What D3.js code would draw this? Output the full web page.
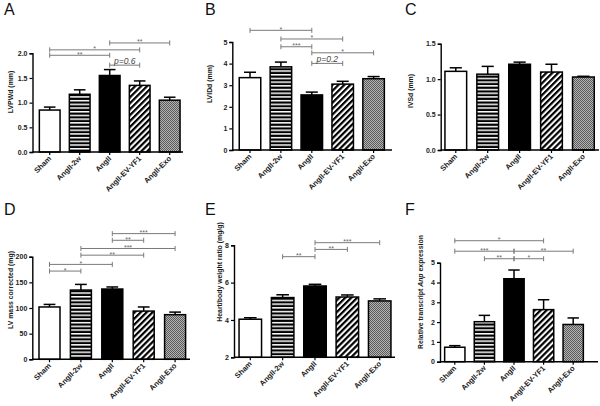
<!DOCTYPE html>
<html><head><meta charset="utf-8">
<script src="https://cdn.jsdelivr.net/npm/d3@7"></script>
<style>body{margin:0;background:#fff}svg{display:block}</style>
</head><body><svg id="c" width="600" height="406"></svg>
<script>
// ---------- DATA ----------
const groups = ["Sham", "AngII-2w", "AngII", "AngII-EV-YF1", "AngII-Exo"];

const lvpwdMean = [0.85, 1.17, 1.55, 1.35, 1.05];
const lvpwdSem  = [0.06, 0.09, 0.12, 0.09, 0.06];
const lvpwdTicks = [0, 0.5, 1.0, 1.5, 2.0];
const lvpwdSig = [[0, 2, 1.96, "**"], [0, 3, 2.07, "*"], [2, 4, 2.21, "**"], [2, 3, 1.76, "p=0.6"]];

const lviddMean = [3.35, 3.85, 2.55, 3.05, 3.3];
const lviddSem  = [0.25, 0.22, 0.13, 0.13, 0.1];
const lviddTicks = [0, 1, 2, 3, 4, 5];
const lviddSig = [[0, 2, 5.54, "*"], [1, 3, 5.14, "*"], [1, 2, 4.78, "***"], [2, 4, 4.5, "*"], [2, 3, 4.01, "p=0.2"]];

const ivsdMean = [1.11, 1.07, 1.21, 1.10, 1.03];
const ivsdSem  = [0.05, 0.11, 0.03, 0.11, 0.01];
const ivsdTicks = [0, 0.5, 1.0, 1.5];
const ivsdSig = [];

const lvmassMean = [102, 135, 137, 94, 87];
const lvmassSem  = [5, 11, 4, 8, 5];
const lvmassTicks = [0, 50, 100, 150, 200];
const lvmassSig = [[0, 1, 172, "*"], [0, 2, 185, "*"], [1, 3, 203, "**"], [1, 4, 216, "***"], [2, 3, 232, "**"], [2, 4, 245, "***"]];

const hbwMean = [4.04, 5.2, 5.82, 5.23, 5.02];
const hbwSem  = [0.08, 0.15, 0.09, 0.11, 0.11];
const hbwTicks = [2, 4, 6, 8];
const hbwSig = [[1, 2, 7.39, "**"], [2, 3, 7.78, "**"], [2, 4, 8.14, "***"]];

const anpMean = [0.73, 2.02, 4.19, 2.63, 1.88];
const anpSem  = [0.08, 0.32, 0.44, 0.5, 0.33];
const anpTicks = [0, 1, 2, 3, 4, 5];
const anpSig = [[0, 3, 6.11, "*"], [0, 2, 5.58, "***"], [2, 4, 5.58, "**"], [1, 2, 5.2, "**"], [2, 3, 5.2, "*"]];

const fills = ["#fff", "url(#hstripe)", "#000", "url(#diag)", "url(#checker)"];

// ---------- LAYOUT ----------
const panels = [
  {letter:"A", lx:4, ly:15, title:"LVPWd (mm)", tx:13, ty:92, axX:32.5, axEnd:183, yT:53.3, yB:152, dom:[0,2], ticks:lvpwdTicks, fmt:d3.format(".1f"), c0:49.7, step:30, w:20.7, mean:lvpwdMean, sem:lvpwdSem, sig:lvpwdSig},
  {letter:"B", lx:205, ly:15, title:"LVIDd (mm)", tx:212, ty:84, axX:232.3, axEnd:392, yT:42, yB:150, dom:[0,5], ticks:lviddTicks, fmt:d3.format("d"), c0:250, step:30.9, w:21.5, mean:lviddMean, sem:lviddSem, sig:lviddSig},
  {letter:"C", lx:405, ly:15, title:"IVSd (mm)", tx:413, ty:91, axX:440.7, axEnd:599, yT:43.7, yB:150, dom:[0,1.5], ticks:ivsdTicks, fmt:d3.format(".1f"), c0:455.8, step:31.9, w:21.7, mean:ivsdMean, sem:ivsdSem, sig:ivsdSig},
  {letter:"D", lx:4, ly:215, title:"LV mass corrected (mg)", tx:13, ty:290, axX:32.3, axEnd:190, yT:256.7, yB:359.3, dom:[0,200], ticks:lvmassTicks, fmt:d3.format("d"), c0:49.5, step:31.4, w:21, mean:lvmassMean, sem:lvmassSem, sig:lvmassSig},
  {letter:"E", lx:205, ly:215, title:"Heart/body weight ratio (mg/g)", tx:222, ty:272, axX:234, axEnd:395, yT:245.3, yB:357.3, dom:[2,8], ticks:hbwTicks, fmt:d3.format("d"), c0:250.3, step:32.35, w:22.5, mean:hbwMean, sem:hbwSem, sig:hbwSig},
  {letter:"F", lx:405, ly:215, title:null, tx:423, ty:292, axX:440, axEnd:598, yT:262.7, yB:361.7, dom:[0,5], ticks:anpTicks, fmt:d3.format("d"), c0:454.8, step:29.6, w:20.3, mean:anpMean, sem:anpSem, sig:anpSig}
];

const svg = d3.select("#c");
const FONT = "Liberation Sans, Arial, sans-serif";

// patterns
const defs = svg.append("defs");
const hs = defs.append("pattern").attr("id","hstripe").attr("patternUnits","userSpaceOnUse").attr("width",4).attr("height",3.7);
hs.append("rect").attr("width",4).attr("height",3.7).attr("fill","#000");
hs.append("rect").attr("width",4).attr("height",1.5).attr("fill","#fff");
const dg = defs.append("pattern").attr("id","diag").attr("patternUnits","userSpaceOnUse").attr("width",4.2).attr("height",4.2).attr("patternTransform","rotate(45)");
dg.append("rect").attr("width",4.2).attr("height",4.2).attr("fill","#fff");
dg.append("rect").attr("width",2.2).attr("height",4.2).attr("fill","#000");
const ck = defs.append("pattern").attr("id","checker").attr("patternUnits","userSpaceOnUse").attr("width",2).attr("height",2);
ck.append("rect").attr("width",2).attr("height",2).attr("fill","#b4b4b4");
ck.append("rect").attr("width",1).attr("height",1).attr("fill","#5a5a5a");
ck.append("rect").attr("x",1).attr("y",1).attr("width",1).attr("height",1).attr("fill","#5a5a5a");

panels.forEach(p => {
  const g = svg.append("g");
  const y = d3.scaleLinear().domain(p.dom).range([p.yB, p.yT]);
  const pi = 1 - p.w / p.step;
  const x = d3.scaleBand().domain(groups)
    .range([p.c0 - p.step/2, p.c0 + p.step*4.5])
    .paddingInner(pi).paddingOuter(pi/2);

  // panel letter
  g.append("text").attr("x", p.lx).attr("y", p.ly).text(p.letter)
    .attr("font-family", FONT).attr("font-size", 16).attr("fill", "#111");

  // y title
  const tt = g.append("text").attr("transform", `translate(${p.tx},${p.ty}) rotate(-90)`)
    .attr("text-anchor","middle").attr("font-family", FONT).attr("font-size", 6.9)
    .attr("font-weight","bold").attr("fill","#1a1a1a");
  if (p.title) tt.text(p.title);
  else {
    tt.append("tspan").text("Relative transcript ");
    tt.append("tspan").attr("font-style","italic").text("Anp");
    tt.append("tspan").text(" expression");
  }

  // error bars
  groups.forEach((k, i) => {
    const cx = x(k) + x.bandwidth()/2;
    const cw = x.bandwidth() * 0.28;
    g.append("line").attr("x1",cx).attr("x2",cx).attr("y1",y(p.mean[i])).attr("y2",y(p.mean[i]+p.sem[i]))
      .attr("stroke","#000").attr("stroke-width",1.5);
    g.append("line").attr("x1",cx-cw).attr("x2",cx+cw).attr("y1",y(p.mean[i]+p.sem[i])).attr("y2",y(p.mean[i]+p.sem[i]))
      .attr("stroke","#000").attr("stroke-width",1.5);
  });

  // bars
  g.selectAll("rect.bar").data(groups).join("rect").attr("class","bar")
    .attr("x", d => x(d)).attr("width", x.bandwidth())
    .attr("y", (d,i) => y(p.mean[i])).attr("height", (d,i) => y(p.dom[0]) - y(p.mean[i]))
    .attr("fill", (d,i) => fills[i]).attr("stroke","#000").attr("stroke-width",1.5);

  // y axis
  const ya = g.append("g").attr("transform", `translate(${p.axX},0)`)
    .call(d3.axisLeft(y).tickValues(p.ticks).tickFormat(p.fmt).tickSize(3).tickPadding(2));
  ya.select(".domain").attr("stroke","#000").attr("stroke-width",1.4);
  ya.selectAll(".tick line").attr("stroke","#000").attr("stroke-width",1.2);
  ya.selectAll(".tick text").attr("font-family",FONT).attr("font-size",7).attr("font-weight","bold").attr("fill","#222");

  // x axis
  const xa = g.append("g").attr("transform", `translate(0,${p.yB})`)
    .call(d3.axisBottom(x).tickSize(3).tickSizeOuter(0));
  xa.select(".domain").remove();
  xa.selectAll(".tick line").attr("stroke","#000").attr("stroke-width",1.2);
  xa.selectAll(".tick text").attr("font-family",FONT).attr("font-size",7.5).attr("font-weight","bold").attr("fill","#222")
    .attr("text-anchor","end").attr("dy",0).attr("y",0)
    .attr("transform","translate(2,7) rotate(-45)");
  g.append("line").attr("x1",p.axX).attr("x2",p.axEnd).attr("y1",p.yB).attr("y2",p.yB)
    .attr("stroke","#000").attr("stroke-width",1.4);

  // significance brackets
  p.sig.forEach(s => {
    const x1 = x(groups[s[0]]) + x.bandwidth()/2;
    const x2 = x(groups[s[1]]) + x.bandwidth()/2;
    const yy = y(s[2]);
    const col = "#7a7a7a";
    g.append("line").attr("x1",x1).attr("x2",x2).attr("y1",yy).attr("y2",yy).attr("stroke",col).attr("stroke-width",1);
    [x1,x2].forEach(xx => g.append("line").attr("x1",xx).attr("x2",xx).attr("y1",yy-2.5).attr("y2",yy+2.5).attr("stroke",col).attr("stroke-width",1));
    const isP = s[3].startsWith("p");
    g.append("text").attr("x",(x1+x2)/2).attr("y", isP ? yy-1.5 : yy+1.5)
      .attr("text-anchor","middle").attr("font-family",FONT)
      .attr("font-size", isP ? 8.5 : 7).attr("font-style", isP ? "italic" : "normal")
      .attr("fill", isP ? "#444" : "#666").text(s[3]);
  });
});
</script></body></html>
